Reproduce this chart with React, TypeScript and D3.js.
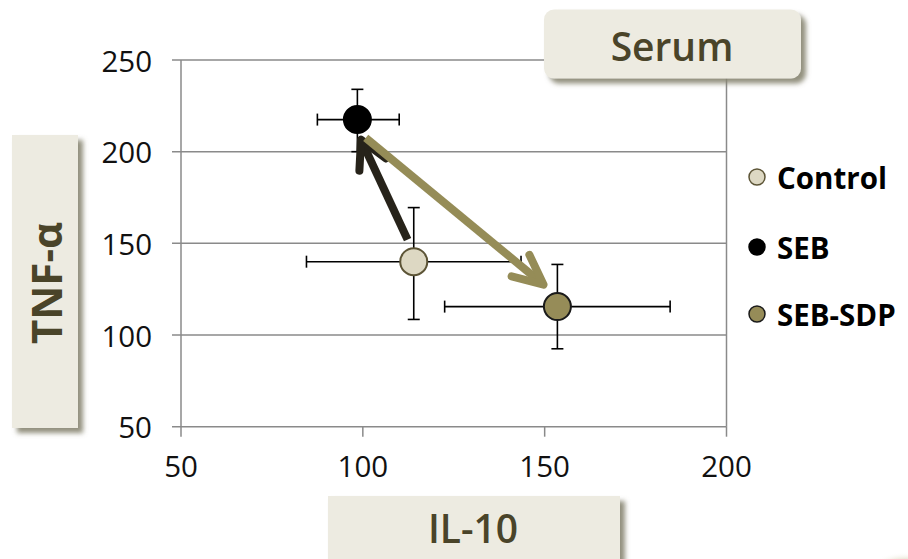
import React from "react";
import * as d3 from "d3";

const groups = ["Control", "SEB", "SEB-SDP"];
const il10 = [114, 98.5, 153.5];
const il10Lo = [84.5, 87.5, 122.5];
const il10Hi = [143.5, 110, 184.5];
const tnf = [140, 217.5, 115.5];
const tnfLo = [108.5, 200, 92.5];
const tnfHi = [169.5, 234, 138.5];
const fills = ["#ddd8c3", "#000000", "#968c58"];
const strokes = ["#5c5436", "#000000", "#1a1a1a"];

const xTicks = [50, 100, 150, 200];
const yTicks = [50, 100, 150, 200, 250];

// arrows in data units: [x, y]
const arrowFrom = [[112.3, 152], [100.8, 207.5]];
const arrowTo = [[99.5, 206.5], [149.7, 127.5]];
const arrowColors = ["#27231a", "#958c57"];

const W = 908, H = 559;
const FONT = "'Open Sans', 'Segoe UI', sans-serif";
const BOX = "#edebe1";
const TXT = "#4a4429";

export default function App() {
  const x = d3.scaleLinear().domain([50, 200]).range([181, 726.5]);
  const y = d3.scaleLinear().domain([50, 250]).range([426.7, 60]);
  const grid = "#8a8a8a";

  const arrowPath = (i: number) => {
    const x0 = x(arrowFrom[i][0]), y0 = y(arrowFrom[i][1]);
    const x1 = x(arrowTo[i][0]), y1 = y(arrowTo[i][1]);
    const ang = Math.atan2(y0 - y1, x0 - x1);
    const len = i === 0 ? 31 : 33;
    const da = (i === 0 ? 28 : 25) * Math.PI / 180;
    const b1 = [x1 + len * Math.cos(ang - da), y1 + len * Math.sin(ang - da)];
    const b2 = [x1 + len * Math.cos(ang + da), y1 + len * Math.sin(ang + da)];
    return {
      shaft: `M${x0},${y0}L${x1},${y1}`,
      head: `M${b1[0]},${b1[1]}L${x1},${y1}L${b2[0]},${b2[1]}`,
    };
  };

  return (
    <svg width={W} height={H} style={{ position: "absolute", left: 0, top: 0, background: "#fff" }}>
      <defs>
        <filter id="sh" x="-20%" y="-20%" width="140%" height="140%">
          <feDropShadow dx="5" dy="5" stdDeviation="2.5" floodColor="#86846f" floodOpacity="0.9" />
        </filter>
        <radialGradient id="blob" cx="0.5" cy="0.5" r="0.5">
          <stop offset="0" stopColor="#b3a66a" />
          <stop offset="1" stopColor="#fff" stopOpacity="0" />
        </radialGradient>
      </defs>

      {/* gridlines */}
      {yTicks.map((t) => (
        <g key={"y" + t}>
          <line x1={172} x2={x(200)} y1={y(t)} y2={y(t)} stroke={grid} strokeWidth={1.5} />
          <text x={152} y={y(t)} textAnchor="end" dominantBaseline="central" fontFamily={FONT} fontSize={29.5} fill="#111">{t}</text>
        </g>
      ))}
      {xTicks.map((t) => (
        <g key={"x" + t}>
          <line x1={x(t)} x2={x(t)} y1={y(50)} y2={y(50) + 10} stroke={grid} strokeWidth={1.5} />
          <text x={x(t)} y={477} textAnchor="middle" fontFamily={FONT} fontSize={29.5} fill="#111">{t}</text>
        </g>
      ))}
      <line x1={x(50)} x2={x(50)} y1={y(250)} y2={y(50)} stroke={grid} strokeWidth={1.5} />
      <line x1={x(200)} x2={x(200)} y1={y(250)} y2={y(50)} stroke={grid} strokeWidth={1.5} />

      {/* error bars */}
      {groups.map((g, i) => (
        <g key={"e" + g} stroke="#000" strokeWidth={1.6}>
          <line x1={x(il10Lo[i])} x2={x(il10Hi[i])} y1={y(tnf[i])} y2={y(tnf[i])} />
          <line x1={x(il10Lo[i])} x2={x(il10Lo[i])} y1={y(tnf[i]) - 6} y2={y(tnf[i]) + 6} />
          <line x1={x(il10Hi[i])} x2={x(il10Hi[i])} y1={y(tnf[i]) - 6} y2={y(tnf[i]) + 6} />
          <line x1={x(il10[i])} x2={x(il10[i])} y1={y(tnfLo[i])} y2={y(tnfHi[i])} />
          <line x1={x(il10[i]) - 6} x2={x(il10[i]) + 6} y1={y(tnfLo[i])} y2={y(tnfLo[i])} />
          <line x1={x(il10[i]) - 6} x2={x(il10[i]) + 6} y1={y(tnfHi[i])} y2={y(tnfHi[i])} />
        </g>
      ))}

      {/* arrows */}
      {arrowFrom.map((_, i) => {
        const p = arrowPath(i);
        return (
          <g key={"a" + i} stroke={arrowColors[i]} strokeWidth={8} fill="none" strokeLinecap="round" strokeLinejoin="round">
            <path d={p.shaft} strokeLinecap="butt" />
            <path d={p.head} />
          </g>
        );
      })}

      {/* points */}
      {groups.map((g, i) => (
        <circle key={"p" + g} cx={x(il10[i])} cy={y(tnf[i])} r={13.5} fill={fills[i]} stroke={strokes[i]} strokeWidth={2} />
      ))}

      {/* legend */}
      {groups.map((g, i) => (
        <g key={"l" + g} transform={`translate(757,${[177, 247, 314][i]})`}>
          <circle r={8} fill={fills[i]} stroke={strokes[i]} strokeWidth={1.5} />
          <text x={20} y={0} dominantBaseline="central" fontFamily={FONT} fontWeight={700} fontSize={29.5} fill="#000">{g}</text>
        </g>
      ))}

      {/* Serum box */}
      <rect x={544} y={9.5} width={257} height={69} rx={10} fill={BOX} filter="url(#sh)" />
      <text x={672} y={45} textAnchor="middle" dominantBaseline="central" fontFamily={FONT} fontWeight={600} fontSize={39} fill={TXT}>Serum</text>

      {/* TNF box */}
      <rect x={12} y={135} width={66} height={293} fill={BOX} filter="url(#sh)" />
      <text transform="translate(45,283) rotate(-90)" textAnchor="middle" dominantBaseline="central" fontFamily={FONT} fontWeight={700} fontSize={42} fill={TXT}>TNF-α</text>

      {/* IL-10 box */}
      <rect x={328} y={496} width={292} height={80} fill={BOX} filter="url(#sh)" />
      <text x={473} y={527} textAnchor="middle" dominantBaseline="central" fontFamily={FONT} fontWeight={600} fontSize={39} fill={TXT}>IL-10</text>

      <ellipse cx={905} cy={566} rx={32} ry={14} fill="url(#blob)" />
    </svg>
  );
}
